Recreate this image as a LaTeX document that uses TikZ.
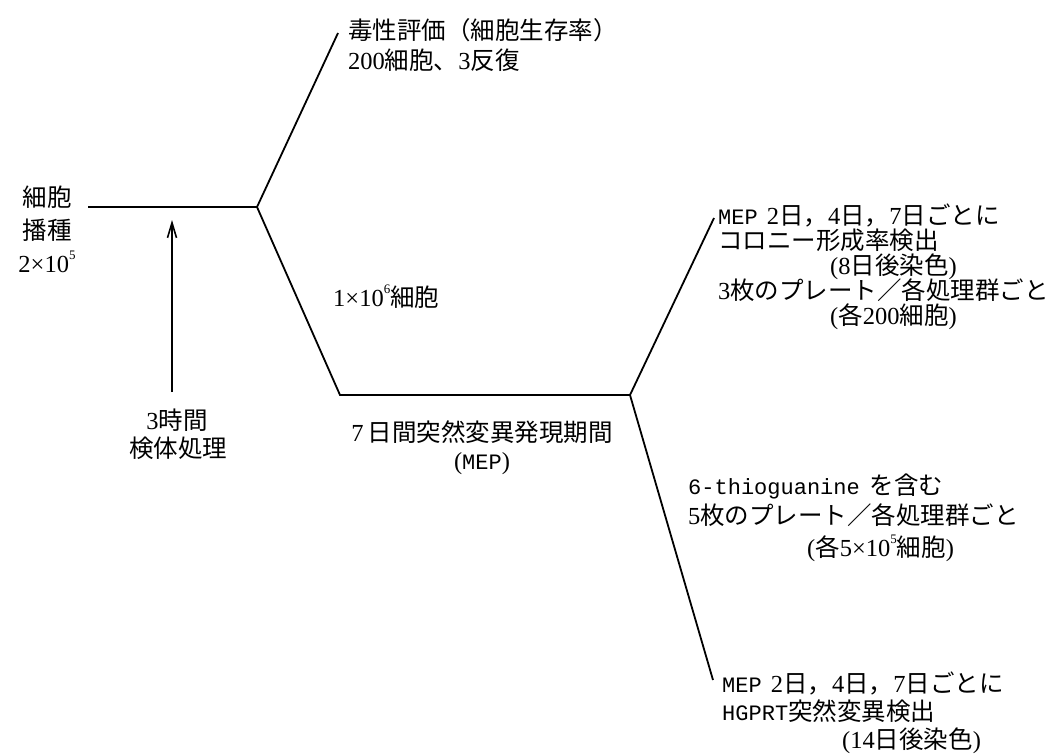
\documentclass[tikz,border=0pt]{standalone}
\usepackage{fontspec}
\setmainfont{Liberation Serif}
\newfontfamily\jpf{Noto Sans CJK JP}
\newfontfamily\monof{Liberation Mono}
\newcommand\jt[1]{{\jpf #1}}
\newcommand\mt[1]{{\monof\fontsize{22}{27}\selectfont #1}}
\newcommand\sups[1]{\raisebox{0.5em}{\fontsize{13}{13}\selectfont #1}}
\usetikzlibrary{arrows.meta}
\begin{document}
\begin{tikzpicture}[x=1pt,y=-1pt,
  lbl/.style={inner sep=0pt, font=\fontsize{24.5}{27}\selectfont},
  lw/.style={lbl, anchor=base west},
  lc/.style={lbl, anchor=base},
  branch/.style={line width=1.8pt, line join=miter},
  arr/.style={line width=1.6pt, -{Straight Barb[length=15pt,width=9pt,line width=1.6pt]}}]
\fill[white] (0,0) rectangle (1060,755);
\path[use as bounding box] (0,0) rectangle (1060,755);

% junctions and ends
\coordinate (seed) at (88,207);
\coordinate (j1) at (257,207);
\coordinate (t1) at (338,33);
\coordinate (j2) at (340,395);
\coordinate (j3) at (630,395);
\coordinate (t2) at (714,218);
\coordinate (t3) at (713,680);
\coordinate (abot) at (172,392);
\coordinate (atop) at (172,220);

\draw[branch] (seed) -- (j1) -- (t1);
\draw[branch] (j1) -- (j2) -- (j3) -- (t2);
\draw[branch] (j3) -- (t3);
\draw[arr] (abot) -- (atop);

% left
\node[lc] (seedA) at (47,206) {\jt{細胞}};
\node[lc] (seedB) at (47,239) {\jt{播種}};
\node[lc] (seedC) at (47,272) {2×10\sups{5}};

% top
\node[lw] (toxA) at (348,39) {\jt{毒性評価（細胞生存率）}};
\node[lw] (toxB) at (348,69) {200\jt{細胞、}3\jt{反復}};

% middle
\node[lw] (cells) at (333,306) {1×10\sups{6}\jt{細胞}};
\node[lc] (treatA) at (177,429) {3\jt{時間}};
\node[lc] (treatB) at (178,457) {\jt{検体処理}};
\node[lc] (mepA) at (482,441) {7\,\jt{日間突然変異発現期間}};
\node[lc] (mepB) at (482,469) {(\mt{MEP})};

% upper right
\node[lw] (urA) at (718,224) {\mt{MEP}\hspace{9pt}2\jt{日，}4\jt{日，}7\jt{日ごとに}};
\node[lw] (urB) at (718,249) {\jt{コロニー形成率検出}};
\node[lw] (urC) at (830,274) {(8\jt{日後染色})};
\node[lw] (urD) at (718,299) {3\jt{枚のプレート／各処理群ごと}};
\node[lw] (urE) at (830,324) {(\jt{各}200\jt{細胞})};

% lower middle right
\node[lw] (lmA) at (688,494) {\mt{6-thioguanine}\hspace{10pt}\jt{を含む}};
\node[lw] (lmB) at (688,524) {5\jt{枚のプレート／各処理群ごと}};
\node[lw] (lmC) at (807,556) {(\jt{各}5×10\sups{5}\jt{細胞})};

% bottom right
\node[lw] (brA) at (722,692) {\mt{MEP}\hspace{9pt}2\jt{日，}4\jt{日，}7\jt{日ごとに}};
\node[lw] (brB) at (722,720) {\mt{HGPRT}\jt{突然変異検出}};
\node[lw] (brC) at (842,748) {(14\jt{日後染色})};
\end{tikzpicture}
\end{document}
